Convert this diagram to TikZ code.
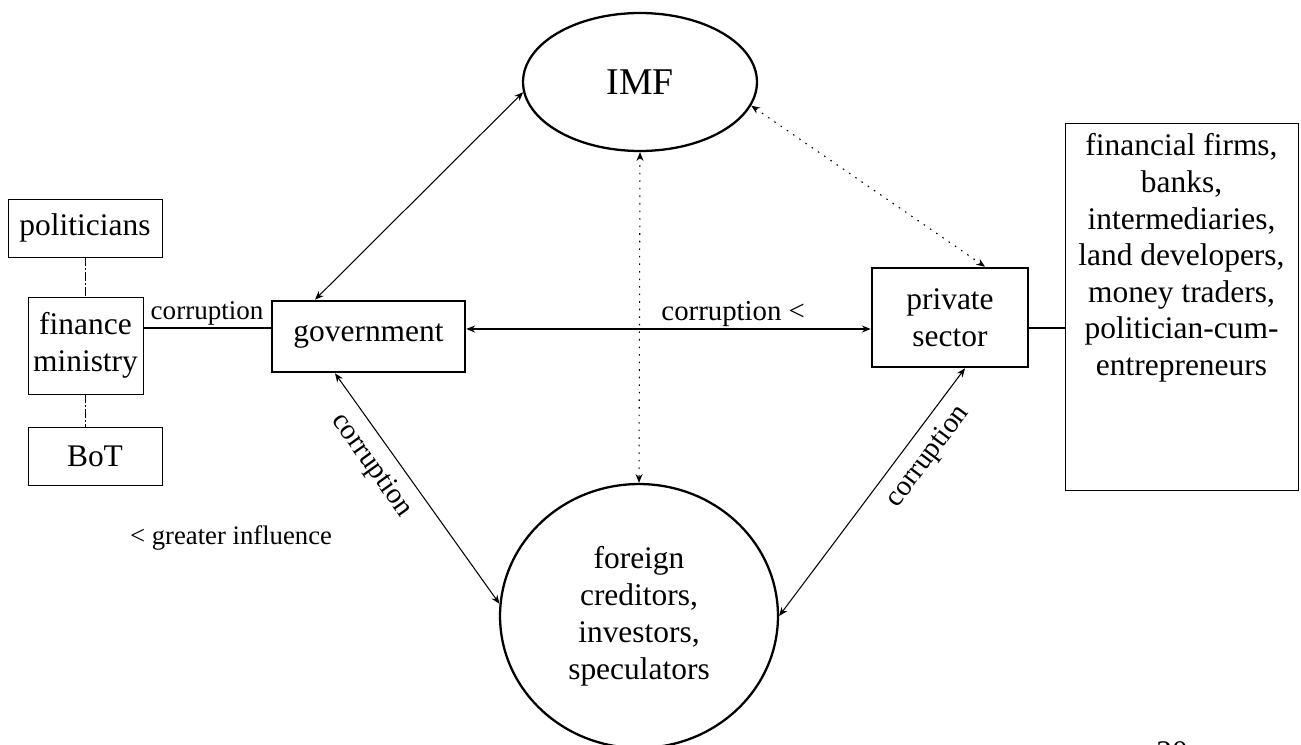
\documentclass[tikz,border=0pt]{standalone}
\usepackage{fontspec}
\setmainfont{Liberation Serif}
\usetikzlibrary{arrows.meta,shapes.geometric}

\begin{document}
\begin{tikzpicture}[
		x = 0.02cm,
		y = -0.02cm,
		font = \fontsize{17.9}{21}\selectfont,
		thinbox/.style = {
			draw,
			rectangle,
			line width = 0.5pt,
			inner sep = 0,
			align = center
		},
		thickbox/.style = {
			draw,
			rectangle,
			line width = 1.5pt,
			inner sep = 0,
			align = center
		},
		oval/.style = {
			draw,
			ellipse,
			line width = 1.3pt,
			inner sep = 0,
			align = center
		},
		link/.style = {
			line width = 0.6pt,
			{Stealth[length = 5pt, width = 4pt]}-{Stealth[length = 5pt, width = 4pt]}
		},
		faint/.style = {
			link,
			dash pattern = on 0.9pt off 3.4pt
		},
		tie/.style = {
			line width = 0.5pt,
			dash pattern = on 5pt off 1.2pt on 1pt off 1.2pt
		},
		lbl/.style = {
			font = \fontsize{16.4}{19}\selectfont
		}
	]
	\useasboundingbox (0, 0) rectangle (1301, 744);

	\node [oval, minimum width = 4.68cm, minimum height = 2.76cm, font = \fontsize{21.5}{24}\selectfont] (imf) at (640, 82) {IMF};
	\node [oval, minimum width = 5.56cm, minimum height = 5.28cm] (fc) at (639, 616) {foreign\\creditors,\\investors,\\speculators};

	\node [thickbox, minimum width = 3.86cm, minimum height = 1.42cm] (gov) at (368.5, 336.5) {government};
	\node [thickbox, minimum width = 3.12cm, minimum height = 1.98cm] (ps) at (950, 317.5) {private\\sector};

	\node [thinbox, minimum width = 3.08cm, minimum height = 1.16cm] (pol) at (85, 228) {politicians};
	\node [thinbox, minimum width = 2.30cm, minimum height = 1.94cm] (fin) at (85.5, 345.5) {finance\\ministry};
	\node [thinbox, minimum width = 2.68cm, minimum height = 1.16cm] (bot) at (95, 456) {BoT};

	\node [thinbox, minimum width = 4.66cm, minimum height = 7.34cm] (firms) at (1181.5, 306.5) {};
	\node [anchor = north, align = center, font = \fontsize{17.9}{20.8}\selectfont] (firmlist) at ([yshift = -0.1cm]firms.north) {financial firms,\\banks,\\intermediaries,\\land developers,\\money traders,\\politician-cum-\\entrepreneurs};

	\node [lbl, font = \fontsize{15.2}{18}\selectfont] (infl) at (231, 538) {< greater influence};
	\node (page) at (1172, 752) {20};

	\draw [tie] (pol.south -| fin.north) -- (fin.north);
	\draw [tie] (fin.south) -- (fin.south |- bot.north);

	\coordinate (fm) at ([yshift = 0.35cm]fin.east);
	\draw [line width = 0.6pt] (fm) -- (fm -| gov.west)
		node [midway, above, lbl, font = \fontsize{15.4}{18}\selectfont, inner sep = 1pt] {corruption};

	\coordinate (gp) at ([yshift = 0.15cm]gov.east);
	\draw [link] (gp) -- (gp -| ps.west)
		node [pos = 0.66, above, lbl, inner sep = 1pt] {corruption <};

	\coordinate (pf) at ([yshift = -0.21cm]ps.east);
	\draw [line width = 0.6pt] (pf) -- (pf -| firms.west);

	\draw [link] ([xshift = -1.07cm]gov.north) -- (imf.185);
	\draw [faint] (imf.south) -- (fc.north);
	\draw [faint] (imf.-12) -- ([xshift = 0.7cm]ps.north);

	\draw [link] ([xshift = -0.67cm]gov.south) -- (fc.175)
		node [pos = 0.34, below, sloped, lbl, inner sep = 6pt] {corruption};
	\draw [link] (fc.east) -- ([xshift = 0.3cm]ps.south)
		node [pos = 0.7, below, sloped, lbl, inner sep = 6pt] {corruption};
\end{tikzpicture}
\end{document}
